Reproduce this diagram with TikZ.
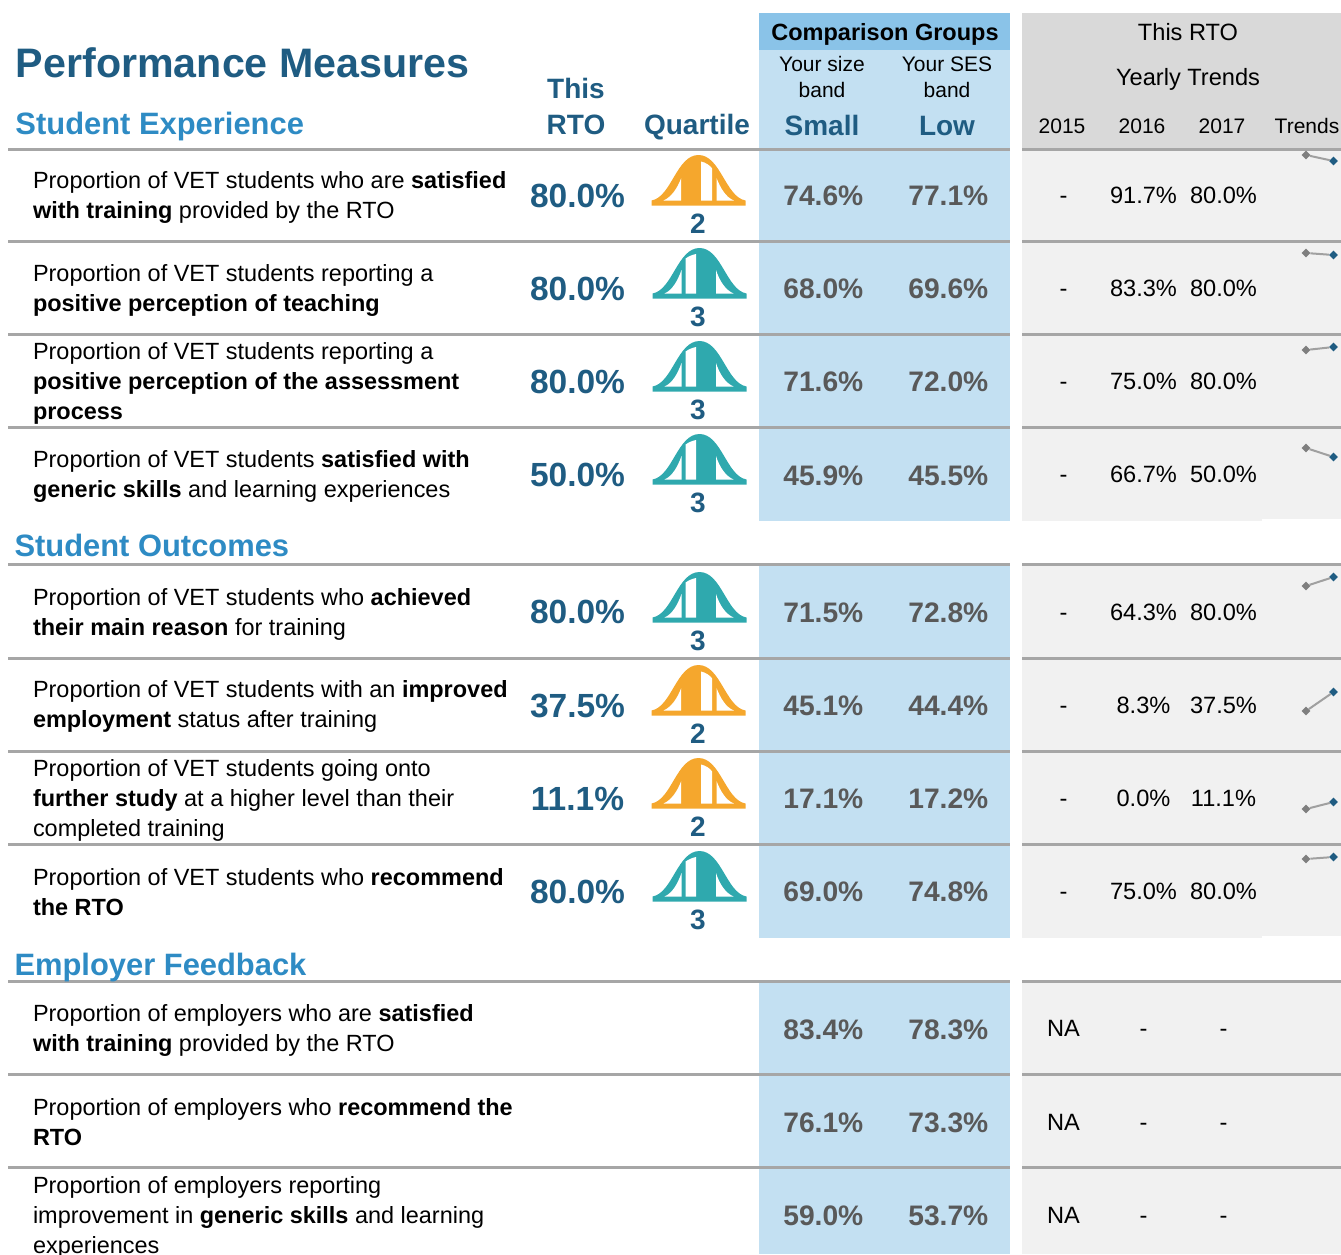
\documentclass[tikz,border=0pt]{standalone}
\usepackage{fontspec}
\setmainfont{Liberation Sans}
\usetikzlibrary{shapes.geometric}
\definecolor{navy}{HTML}{1F5C82}
\definecolor{skyb}{HTML}{2E8BC4}
\definecolor{hdrblue}{HTML}{8AC3E8}
\definecolor{lightblue}{HTML}{C3E0F2}
\definecolor{hdrgrey}{HTML}{D9D9D9}
\definecolor{lightgrey}{HTML}{F1F1F1}
\definecolor{rulegrey}{HTML}{A6A6A6}
\definecolor{cmpgrey}{HTML}{595959}
\definecolor{orng}{HTML}{F5A72D}
\definecolor{teal}{HTML}{2FA9AE}
\definecolor{trendgrey}{HTML}{7F7F7F}
\definecolor{trendline}{HTML}{A0A0A0}
\newcommand{\fs}[1]{\fontsize{#1}{#1}\selectfont}
\tikzset{
 x=1pt,y=-1pt,
 sep/.style={draw=rulegrey,line width=3pt},
 txt/.style={inner sep=0pt,outer sep=0pt},
 measure/.style={txt,anchor=west,align=left,font=\fontsize{23.46}{30}\selectfont},
 rtoval/.style={txt,font=\fs{33.5}\bfseries,text=navy},
 cmpval/.style={txt,font=\fs{28.2}\bfseries,text=cmpgrey},
 yrval/.style={txt,font=\fs{23.6},text height=17pt,text depth=0pt},
 quart/.style={txt,font=\fs{28}\bfseries,text=navy},
 sect/.style={txt,anchor=base west,font=\fs{30.9}\bfseries,text=skyb},
 colhead/.style={txt,font=\fs{28}\bfseries,text=navy},
 small/.style={txt,font=\fs{21}},
 gmark/.style={diamond,aspect=1,fill=trendgrey,inner sep=0pt,minimum size=9pt},
 bmark/.style={diamond,aspect=1,fill=navy,inner sep=0pt,minimum size=9pt},
}
% bell curve: #1 name, #2 centre x, #3 top y, #4 colour, #5 quartile
\newcommand{\bell}[5]{%
 \begin{scope}[shift={(#2,#3)}]
  \fill[#4,line join=round] (-47,44.5) .. controls (-27,41) and (-22,-1) .. (0,-1) .. controls (22,-1) and (27,41) .. (47,44.5) -- (47,49.5) -- (-47,49.5) -- cycle;
  \ifnum#5=2
   \fill[white] (-35,44.5) .. controls (-27,41) and (-21,32) .. (-17.3,22) -- (-17.3,44.5) -- cycle;
   \fill[white] (2.7,5.5) .. controls (7,6.5) and (11,9) .. (13.7,12.5) -- (13.7,44.5) -- (2.7,44.5) -- cycle;
   \fill[white] (18,22) .. controls (22,32) and (27,41) .. (35.3,44.5) -- (18,44.5) -- cycle;
  \else
   \fill[white] (-35,44.5) .. controls (-27,41) and (-22,32) .. (-18,21) -- (-18,44.5) -- cycle;
   \fill[white] (-14,9.5) .. controls (-11,7.5) and (-7,5.5) .. (-3.3,5) -- (-3.3,44.5) -- (-14,44.5) -- cycle;
   \fill[white] (16.5,21) .. controls (20,32) and (26,41) .. (34,44.5) -- (16.5,44.5) -- cycle;
  \fi
 \end{scope}
 \node[quart] (q#1) at (698,#3+67.5) {#5};
}
% row: #1 id, #2 text y, #3 text, #4 value y, #5 small, #6 low
\newcommand{\cmprow}[6]{%
 \node[measure] (m#1) at (33,#2) {#3};
 \node[cmpval] (s#1) at (823.3,#4) {#5};
 \node[cmpval] (l#1) at (948.3,#4) {#6};
}
\newcommand{\yrs}[5]{%
 \node[yrval] (a#1) at (1063.5,#2) {#3};
 \node[yrval] (b#1) at (1143.5,#2) {#4};
 \node[yrval] (c#1) at (1223.5,#2) {#5};
}
\newcommand{\trend}[4]{%
 \node[gmark] (tg#1) at (#2,#3) {};
 \node[bmark] (tb#1) at (1333.5,#4) {};
 \draw[trendline,line width=2pt] (tg#1) -- (tb#1);
}
\begin{document}
\begin{tikzpicture}
\useasboundingbox (0,0) rectangle (1341,1254);
% panels
\fill[hdrblue] (759,13) rectangle (1010,50);
\fill[lightblue] (759,50) rectangle (1010,521);
\fill[lightblue] (759,564) rectangle (1010,938);
\fill[lightblue] (759,981) rectangle (1010,1254);
\fill[hdrgrey] (1022,13) rectangle (1341,149);
\fill[lightgrey] (1022,149) rectangle (1341,519);
\fill[lightgrey] (1022,519) rectangle (1262,521);
\fill[lightgrey] (1022,564) rectangle (1341,936);
\fill[lightgrey] (1022,936) rectangle (1262,938);
\fill[lightgrey] (1022,981) rectangle (1341,1254);
% rules
\foreach \yy in {149,241,334,427,564,658,751,844,981,1074,1167}{
 \draw[sep] (8,\yy) -- (1010,\yy);
 \draw[sep] (1022,\yy) -- (1341,\yy);
}
% titles
\node[txt,anchor=base west,font=\fs{41.2}\bfseries,text=navy] (title) at (16,77) {Performance Measures};
\node[sect] (sec1) at (15.5,134) {Student Experience};
\node[sect] (sec2) at (14.5,556) {Student Outcomes};
\node[sect] (sec3) at (14.5,975) {Employer Feedback};
% column heads
\node[colhead] (h1) at (576,88) {This};
\node[colhead] (h2) at (576,124.5) {RTO};
\node[colhead] (h3) at (697,127) {Quartile};
\node[txt,font=\fs{23.5}\bfseries] (cg) at (885,34) {Comparison Groups};
\node[small] (ys1) at (822,64) {Your size};
\node[small] (ys2) at (822,90) {band};
\node[small] (yb1) at (947,64) {Your SES};
\node[small] (yb2) at (947,90) {band};
\node[colhead] (hs) at (822,125.5) {Small};
\node[colhead] (hl) at (947,125.5) {Low};
\node[txt,font=\fs{23.6}] (tr) at (1188,32) {This RTO};
\node[txt,font=\fs{23.6}] (yt) at (1188,79) {Yearly Trends};
\node[small] (y15) at (1062,126) {2015};
\node[small] (y16) at (1142,126) {2016};
\node[small] (y17) at (1222,126) {2017};
\node[small] (ytr) at (1307,126) {Trends};
% measures and comparison values
\cmprow{1}{197.5}{Proportion of VET students who are \textbf{satisfied}\\\textbf{with training} provided by the RTO}{196}{74.6\%}{77.1\%}
\cmprow{2}{290.5}{Proportion of VET students reporting a\\\textbf{positive perception of teaching}}{289}{68.0\%}{69.6\%}
\cmprow{3}{383.5}{Proportion of VET students reporting a\\\textbf{positive perception of the assessment}\\\textbf{process}}{382}{71.6\%}{72.0\%}
\cmprow{4}{476.5}{Proportion of VET students \textbf{satisfied with}\\\textbf{generic skills} and learning experiences}{476}{45.9\%}{45.5\%}
\cmprow{5}{614.5}{Proportion of VET students who \textbf{achieved}\\\textbf{their main reason} for training}{613}{71.5\%}{72.8\%}
\cmprow{6}{706.5}{Proportion of VET students with an \textbf{improved}\\\textbf{employment} status after training}{706}{45.1\%}{44.4\%}
\cmprow{7}{800.5}{Proportion of VET students going onto\\\textbf{further study} at a higher level than their\\completed training}{799}{17.1\%}{17.2\%}
\cmprow{8}{892}{Proportion of VET students who \textbf{recommend}\\\textbf{the RTO}}{892}{69.0\%}{74.8\%}
\cmprow{9}{1030.5}{Proportion of employers who are \textbf{satisfied}\\\textbf{with training} provided by the RTO}{1030}{83.4\%}{78.3\%}
\cmprow{10}{1122.5}{Proportion of employers who \textbf{recommend the}\\\textbf{RTO}}{1123}{76.1\%}{73.3\%}
\cmprow{11}{1217.5}{Proportion of employers reporting\\improvement in \textbf{generic skills} and learning\\experiences}{1216}{59.0\%}{53.7\%}
% RTO values
\node[rtoval] (r1) at (577.5,196) {80.0\%};
\node[rtoval] (r2) at (577.5,289) {80.0\%};
\node[rtoval] (r3) at (577.5,382) {80.0\%};
\node[rtoval] (r4) at (577.5,475) {50.0\%};
\node[rtoval] (r5) at (577.5,612) {80.0\%};
\node[rtoval] (r6) at (577.5,705.5) {37.5\%};
\node[rtoval] (r7) at (577.5,798.5) {11.1\%};
\node[rtoval] (r8) at (577.5,892) {80.0\%};
% bells
\bell{1}{698.5}{156}{orng}{2}
\bell{2}{699.5}{249}{teal}{3}
\bell{3}{699.5}{342}{teal}{3}
\bell{4}{699.5}{435}{teal}{3}
\bell{5}{699.5}{573}{teal}{3}
\bell{6}{698.5}{666}{orng}{2}
\bell{7}{698.5}{759}{orng}{2}
\bell{8}{699.5}{852}{teal}{3}
% yearly values
\yrs{1}{195}{-}{91.7\%}{80.0\%}
\yrs{2}{288}{-}{83.3\%}{80.0\%}
\yrs{3}{381}{-}{75.0\%}{80.0\%}
\yrs{4}{474}{-}{66.7\%}{50.0\%}
\yrs{5}{612}{-}{64.3\%}{80.0\%}
\yrs{6}{705}{-}{8.3\%}{37.5\%}
\yrs{7}{798}{-}{0.0\%}{11.1\%}
\yrs{8}{891}{-}{75.0\%}{80.0\%}
\yrs{9}{1028}{NA}{-}{-}
\yrs{10}{1122}{NA}{-}{-}
\yrs{11}{1215}{NA}{-}{-}
% sparklines
\trend{1}{1306}{155}{161}
\trend{2}{1306}{253}{255}
\trend{3}{1306}{350}{347}
\trend{4}{1306}{448}{457}
\trend{5}{1306}{586}{577}
\trend{6}{1306}{711}{692}
\trend{7}{1306}{809}{802}
\trend{8}{1306}{859}{857}
\end{tikzpicture}
\end{document}
